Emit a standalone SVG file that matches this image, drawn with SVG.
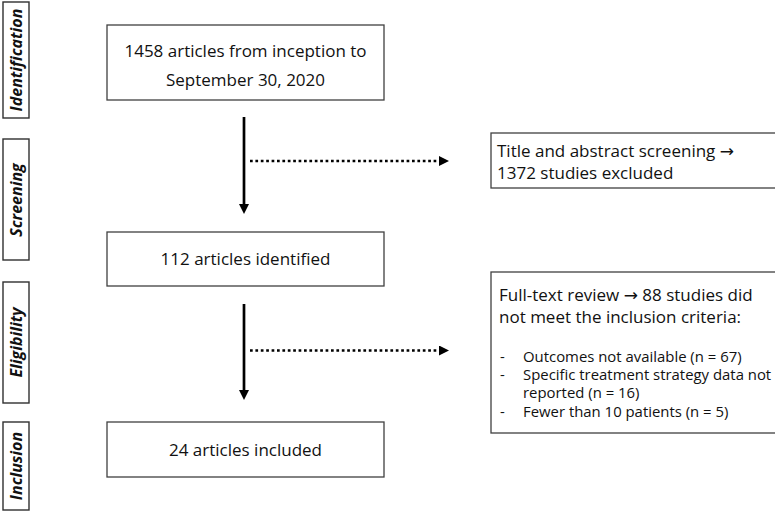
<svg xmlns="http://www.w3.org/2000/svg" width="775" height="512" viewBox="0 0 775 512">
  <style>
    .box { fill: #ffffff; stroke: #404040; stroke-width: 1.3; }
    .lbl { fill: #ffffff; stroke: #303030; stroke-width: 1.4; }
    .t { font-family: "Open Sans", "Liberation Sans", sans-serif; font-size: 17px; fill: #111111; }
    .s { font-size: 14.9px; }
    .tc { text-anchor: middle; }
    .arr { font-family: "DejaVu Sans", sans-serif; }
    .side { font-family: "Open Sans", "Liberation Sans", sans-serif; font-size: 16px; font-weight: bold; font-style: italic; fill: #111111; text-anchor: middle; }
    .solid { stroke: #000000; stroke-width: 2.7; fill: none; }
    .dot { stroke: #000000; stroke-width: 2.7; fill: none; stroke-dasharray: 2.7 2.7; }
  </style>
  <defs>
    <marker id="ah" viewBox="0 0 10 10" refX="2" refY="5" markerWidth="10" markerHeight="10" markerUnits="userSpaceOnUse" orient="auto">
      <path d="M0,0 L10,5 L0,10 z" fill="#000000" stroke="none"/>
    </marker>
  </defs>
  <rect x="0" y="0" width="775" height="512" fill="#ffffff"/>

  <g id="phase-identification">
    <rect class="lbl" x="3" y="2" width="26" height="116"/>
    <text class="side" transform="translate(22,60) rotate(-90)">Identification</text>
  </g>
  <g id="phase-screening">
    <rect class="lbl" x="3" y="139" width="26" height="121"/>
    <text class="side" transform="translate(22,200) rotate(-90)">Screening</text>
  </g>
  <g id="phase-eligibility">
    <rect class="lbl" x="3" y="282" width="26" height="121"/>
    <text class="side" transform="translate(22,342.5) rotate(-90)">Eligibility</text>
  </g>
  <g id="phase-inclusion">
    <rect class="lbl" x="3" y="422" width="26" height="88"/>
    <text class="side" transform="translate(22,466) rotate(-90)">Inclusion</text>
  </g>

  <g id="node-articles">
    <rect class="box" x="107" y="25" width="277" height="75"/>
    <text class="t tc" x="245.5" y="57">1458 articles from inception to</text>
    <text class="t tc" x="245.5" y="86">September 30, 2020</text>
  </g>
  <g id="node-identified">
    <rect class="box" x="107" y="232" width="277" height="54"/>
    <text class="t tc" x="245.5" y="265">112 articles identified</text>
  </g>
  <g id="node-included">
    <rect class="box" x="107" y="422" width="277" height="55"/>
    <text class="t tc" x="245.5" y="456">24 articles included</text>
  </g>
  <g id="node-screen-excluded">
    <rect class="box" x="491" y="133" width="300" height="55"/>
    <text class="t" x="497" y="157">Title and abstract screening <tspan class="arr">→</tspan></text>
    <text class="t" x="497" y="179">1372 studies excluded</text>
  </g>
  <g id="node-fulltext-excluded">
    <rect class="box" x="491" y="272" width="300" height="161"/>
    <text class="t" x="499" y="301">Full-text review <tspan class="arr">→</tspan> 88 studies did</text>
    <text class="t" x="499" y="323">not meet the inclusion criteria:</text>
    <text class="t s" x="500" y="362">-</text>
    <text class="t s" x="523" y="362">Outcomes not available (n = 67)</text>
    <text class="t s" x="500" y="380">-</text>
    <text class="t s" x="523" y="380">Specific treatment strategy data not</text>
    <text class="t s" x="523" y="398">reported (n = 16)</text>
    <text class="t s" x="500" y="417">-</text>
    <text class="t s" x="523" y="417">Fewer than 10 patients (n = 5)</text>
  </g>

  <g id="connectors">
    <line class="solid" x1="244" y1="117" x2="244" y2="206" marker-end="url(#ah)"/>
    <line class="dot" x1="250" y1="161" x2="441" y2="161" marker-end="url(#ah)"/>
    <line class="solid" x1="244" y1="304" x2="244" y2="392" marker-end="url(#ah)"/>
    <line class="dot" x1="250" y1="350.5" x2="441" y2="350.5" marker-end="url(#ah)"/>
  </g>
</svg>
